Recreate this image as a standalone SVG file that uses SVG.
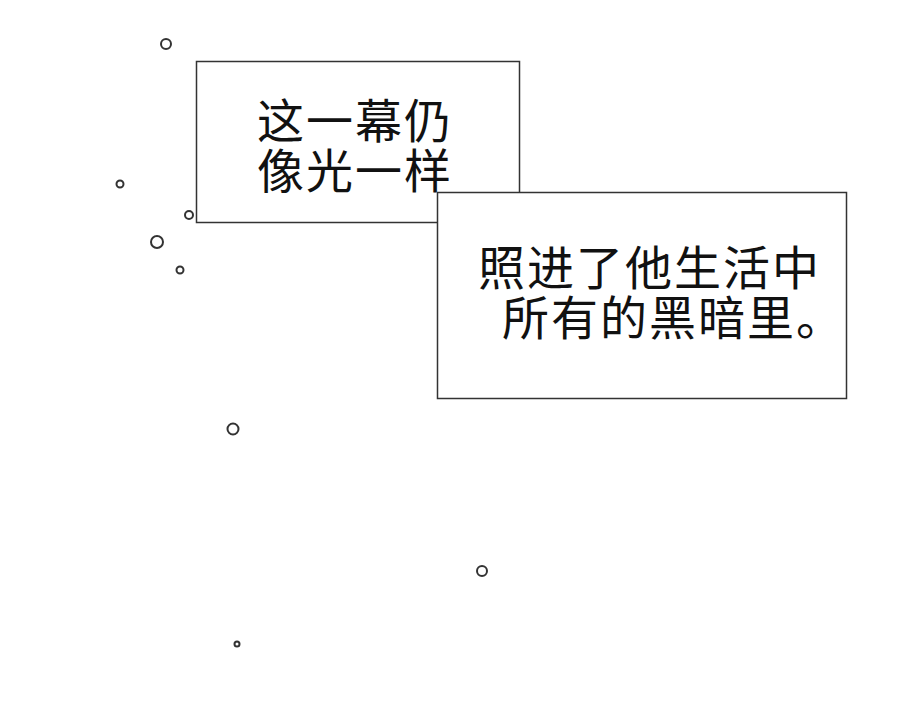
<svg xmlns="http://www.w3.org/2000/svg" width="900" height="702" viewBox="0 0 900 702">
<style>
.b{fill:#fff;stroke:#333;stroke-width:1.5}
.c{fill:#fff;stroke:#333;stroke-width:2}
.t{font-family:"Noto Sans CJK SC","Noto Sans",sans-serif;font-size:47px;letter-spacing:2px;fill:#111}
</style>
<rect width="900" height="702" fill="#fff"/>
<g id="bubbles">
<circle class="c" cx="166" cy="44" r="5"/>
<circle class="c" cx="120" cy="184" r="3.5"/>
<circle class="c" cx="189" cy="215" r="4"/>
<circle class="c" cx="157" cy="242" r="6"/>
<circle class="c" cx="180" cy="270" r="3.5"/>
<circle class="c" cx="233" cy="429" r="5.5"/>
<circle class="c" cx="482" cy="571" r="5"/>
<circle class="c" cx="237" cy="644" r="2.5"/>
</g>
<g id="box1">
<rect class="b" x="196.5" y="61.5" width="323" height="161"/>
<text class="t" x="257" y="138">这一幕仍</text>
<text class="t" x="257" y="188">像光一样</text>
</g>
<g id="box2">
<rect class="b" x="437.5" y="192.5" width="409" height="206"/>
<text class="t" x="478" y="285">照进了他生活中</text>
<text class="t" x="502" y="335">所有的黑暗里。</text>
</g>
</svg>
